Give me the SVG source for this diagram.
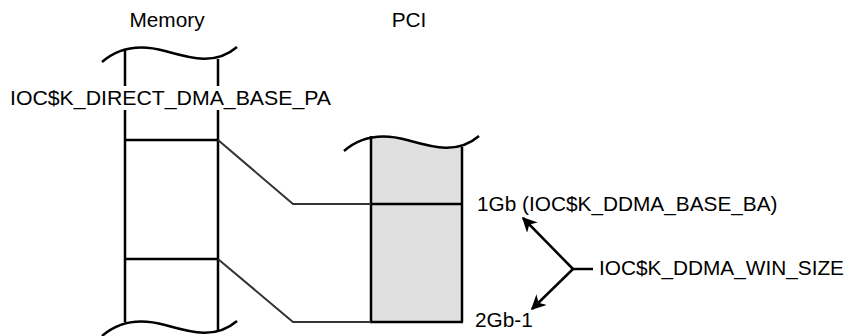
<svg xmlns="http://www.w3.org/2000/svg" width="845" height="336" viewBox="0 0 845 336">
<style>
text{font-family:"Liberation Sans",Arial,sans-serif;font-size:20.8px;fill:#000}
.ln{stroke:#000;stroke-width:2.5;fill:none}
.wv{stroke:#000;stroke-width:2.5;fill:none}
.cn{stroke:#333;stroke-width:2;fill:none}
.ar{stroke:#000;stroke-width:2.5;fill:none}
</style>
<defs>
<marker id="ah" viewBox="0 0 10 10" refX="9" refY="5" markerWidth="6" markerHeight="6" orient="auto" markerUnits="strokeWidth">
<path d="M0,0 L10,5 L0,10 L3,5 Z" fill="#000"/>
</marker>
<path id="wave" d="M0,0 C16,-14 38,-18 63,-11 C88,-4 113,4 135,-15"/>
<clipPath id="pciclip"><rect x="371" y="100" width="91" height="222"/></clipPath>
</defs>
<rect width="845" height="336" fill="#fff"/>
<g id="memory">
<text x="167" y="27" text-anchor="middle">Memory</text>
<line class="ln" x1="125" y1="50" x2="125" y2="322"/>
<line class="ln" x1="218" y1="59" x2="218" y2="331"/>
<line class="ln" x1="125" y1="140" x2="218" y2="140"/>
<line class="ln" x1="125" y1="259" x2="218" y2="259"/>
<use href="#wave" class="wv" x="102" y="62"/>
<path d="M102,336 C118,322 140,318 165,325 C190,332 215,340 237,321 L237,336 Z" fill="#fff"/>
<use href="#wave" class="wv" x="102" y="336"/>
<rect x="8" y="86" width="326" height="24" fill="#fff"/>
<text x="10" y="105" textLength="321" lengthAdjust="spacingAndGlyphs">IOC$K_DIRECT_DMA_BASE_PA</text>
</g>
<g id="pci">
<text x="409" y="27" text-anchor="middle">PCI</text>
<path clip-path="url(#pciclip)" d="M344,151 C360,137 382,133 407,140 C432,147 457,155 479,136 L479,322 L344,322 Z" fill="#e0e0e0"/>
<use href="#wave" class="wv" x="344" y="151"/>
<line class="ln" x1="371" y1="136" x2="371" y2="322"/>
<line class="ln" x1="462" y1="147" x2="462" y2="322"/>
<line class="ln" x1="371" y1="204" x2="462" y2="204"/>
<line class="ln" x1="370" y1="322" x2="463" y2="322" stroke-width="3"/>
<text x="477" y="211">1Gb (IOC$K_DDMA_BASE_BA)</text>
<text x="475" y="327">2Gb-1</text>
</g>
<g id="winsize">
<text x="599" y="275">IOC$K_DDMA_WIN_SIZE</text>
</g>
<g id="connectors">
<polyline class="cn" points="218,140 293,204 371,204"/>
<polyline class="cn" points="218,259 293,322 371,322"/>
<line class="ar" x1="593" y1="269" x2="573" y2="269"/>
<line class="ar" x1="573" y1="269" x2="523" y2="218" marker-end="url(#ah)"/>
<line class="ar" x1="573" y1="269" x2="532" y2="309" marker-end="url(#ah)"/>
</g>
</svg>
